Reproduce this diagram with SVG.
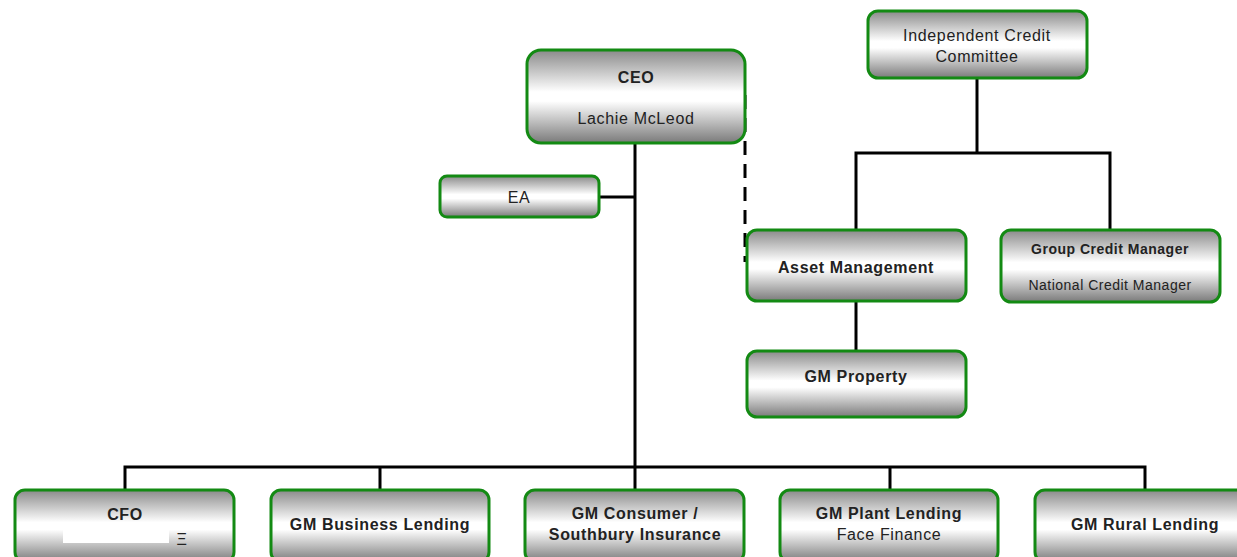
<svg xmlns="http://www.w3.org/2000/svg" width="1237" height="557" viewBox="0 0 1237 557">
<defs>
<linearGradient id="g" x1="0" y1="0" x2="0" y2="1">
<stop offset="0" stop-color="#8a8a8a"/>
<stop offset="0.45" stop-color="#ffffff"/>
<stop offset="0.55" stop-color="#ffffff"/>
<stop offset="1" stop-color="#7a7a7a"/>
</linearGradient>
</defs>
<style>
.box{fill:url(#g);stroke:#138a13;stroke-width:3}
.ln{stroke:#000;stroke-width:3;fill:none}
.dash{stroke:#000;stroke-width:3;fill:none;stroke-dasharray:14 9}
.t{font-family:"Liberation Sans",Arial,sans-serif;font-size:16px;letter-spacing:0.65px;fill:#222;text-anchor:middle}
.b{font-weight:bold}
.s{font-size:14px;letter-spacing:0.5px}
</style>
<g id="connectors">
<path class="ln" d="M635,143 V467"/>
<path class="ln" d="M599,197 H635"/>
<path class="ln" d="M125,490 V467 H1145 V490"/>
<path class="ln" d="M380,467 V490 M635,467 V490 M890,467 V490"/>
<path class="ln" d="M977,78 V153"/>
<path class="ln" d="M856,230 V153 H1110 V230"/>
<path class="ln" d="M856,301 V351"/>
<path class="dash" d="M745,95 V262"/>
</g>
<g id="ceo"><rect class="box" x="527" y="50" width="218" height="93" rx="14"/>
<text class="t b" x="636" y="83">CEO</text><text class="t" x="636" y="124">Lachie McLeod</text></g>
<g id="ea"><rect class="box" x="440" y="176" width="159" height="41" rx="7"/>
<text class="t" x="519" y="203">EA</text></g>
<g id="icc"><rect class="box" x="868" y="11" width="219" height="67" rx="10"/>
<text class="t" x="977" y="41">Independent Credit</text><text class="t" x="977" y="62">Committee</text></g>
<g id="asset"><rect class="box" x="747" y="230" width="219" height="71" rx="10"/>
<text class="t b" x="856" y="273">Asset Management</text></g>
<g id="gcm"><rect class="box" x="1001" y="230" width="219" height="72" rx="10"/>
<text class="t b s" x="1110" y="254">Group Credit Manager</text><text class="t s" x="1110" y="290">National Credit Manager</text></g>
<g id="gmprop"><rect class="box" x="747" y="351" width="219" height="66" rx="10"/>
<text class="t b" x="856" y="382">GM Property</text></g>
<g id="cfo"><rect class="box" x="15" y="490" width="219" height="72" rx="10"/>
<text class="t b" x="125" y="520">CFO</text>
<rect x="63" y="527" width="106" height="16" fill="#fff"/>
<text class="t" x="182" y="545" font-size="12">Ξ</text></g>
<g id="gmbl"><rect class="box" x="271" y="490" width="218" height="72" rx="10"/>
<text class="t b" x="380" y="530">GM Business Lending</text></g>
<g id="gmcs"><rect class="box" x="525" y="490" width="219" height="72" rx="10"/>
<text class="t b" x="635" y="519">GM Consumer /</text><text class="t b" x="635" y="540">Southbury Insurance</text></g>
<g id="gmpl"><rect class="box" x="780" y="490" width="218" height="72" rx="10"/>
<text class="t b" x="889" y="519">GM Plant Lending</text><text class="t" x="889" y="540">Face Finance</text></g>
<g id="gmrl"><rect class="box" x="1035" y="490" width="219" height="72" rx="10"/>
<text class="t b" x="1145" y="530">GM Rural Lending</text></g>
</svg>
